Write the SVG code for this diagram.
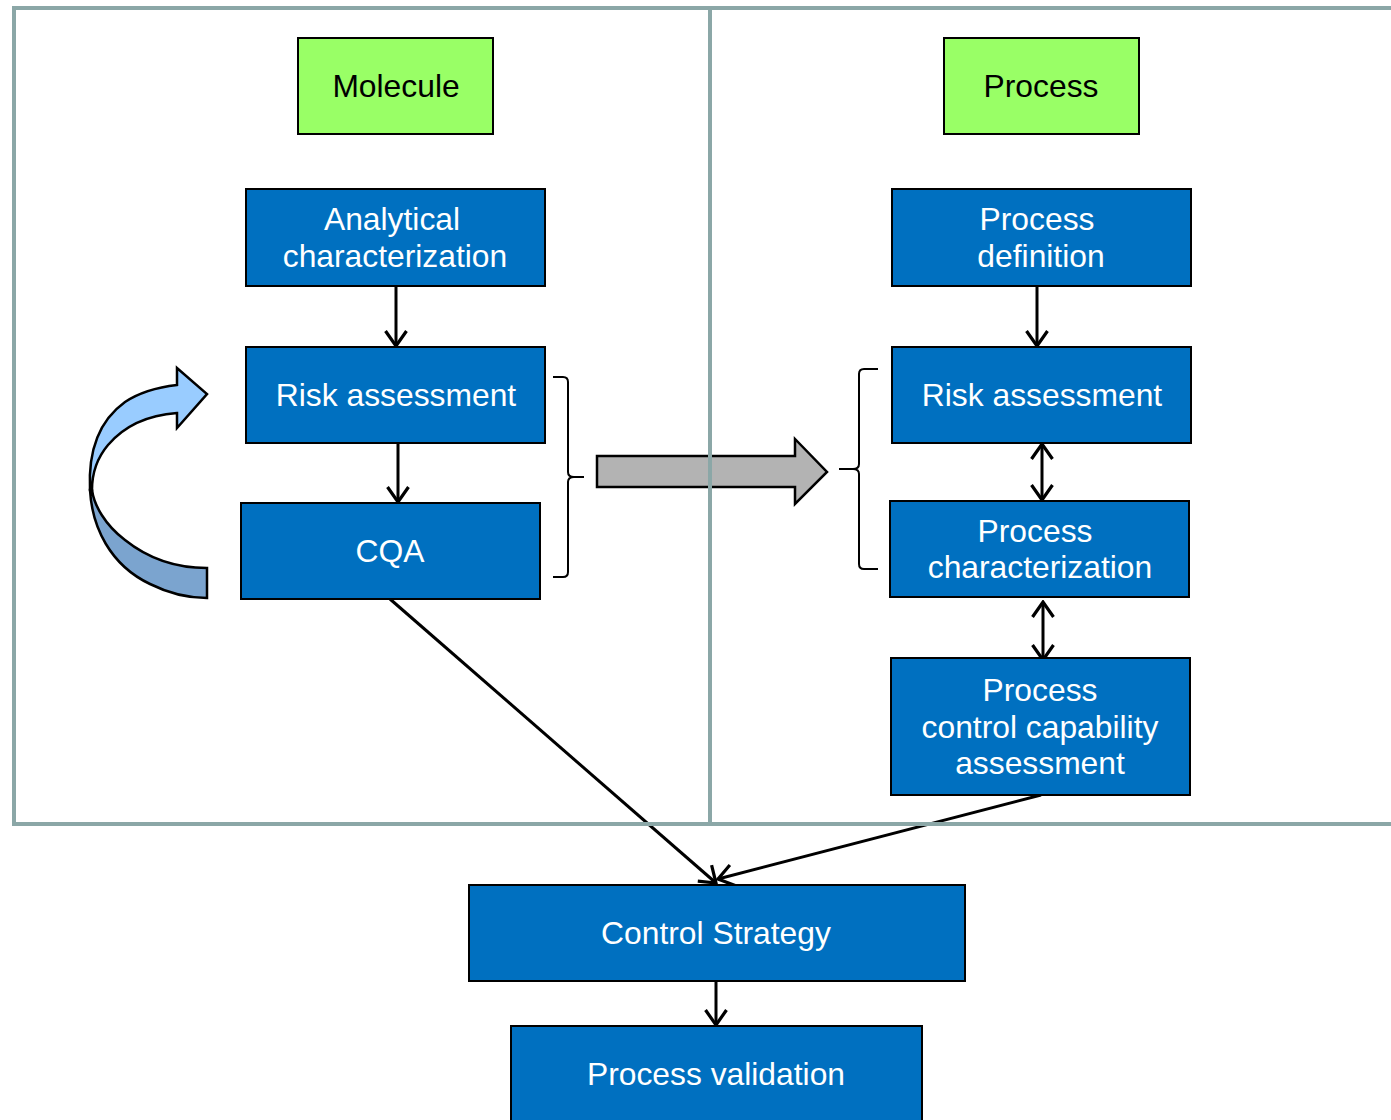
<svg xmlns="http://www.w3.org/2000/svg" width="1391" height="1120" viewBox="0 0 1391 1120">
<style>
.box{fill:#0070c0;stroke:#000;stroke-width:2}
.gbox{fill:#99ff66;stroke:#000;stroke-width:2}
.t{font-family:"Liberation Sans",Arial,sans-serif;font-size:31.8px;text-anchor:middle;fill:#fff}
.tk{fill:#000}
.con{fill:none;stroke:#000;stroke-width:3}
.brace{fill:none;stroke:#000;stroke-width:2}
.frame{fill:none;stroke:#8ba7a7;stroke-width:4}
</style>
<defs>
<marker id="ah" viewBox="-17 -13 19 26" refX="0" refY="0" markerWidth="19" markerHeight="26" markerUnits="userSpaceOnUse" orient="auto-start-reverse">
<path d="M-15,-10.5 L0,0 L-15,10.5" fill="none" stroke="#000" stroke-width="3.2"/>
</marker>
</defs>
<rect width="1391" height="1120" fill="#fff"/>

<g id="curved-arrow">
<path d="M90,490 C92,527 110,565 150,584 C170,594 190,598 207,598 L207,568 C180,568 150,560 125,540 C105,525 94,505 92,490 Z" fill="#7ba4cf" stroke="#000" stroke-width="2.5"/>
<path d="M90,490 C88,450 100,420 125,402 C140,392 160,387 177,385 L177,368 L207,394 L177,428 L177,413 C150,415 125,425 108,445 C97,458 92,474 92,490 Z" fill="#99ccff" stroke="#000" stroke-width="2.5"/>
</g>

<g id="gray-arrow">
<path d="M597,456 H795 V439 L827,472 L795,504 V487 H597 Z" fill="#b3b3b3" stroke="#000" stroke-width="2.5"/>
</g>

<g id="braces">
<path class="brace" d="M553,377 H563 Q568,377 568,382 V472 Q568,477 574,477 H584 M574,477 Q568,477 568,482 V572 Q568,577 563,577 H553"/>
<path class="brace" d="M878,369 H864 Q859,369 859,374 V464 Q859,469 853,469 H839 M853,469 Q859,469 859,474 V564 Q859,569 864,569 H878"/>
</g>

<g id="connectors">
<line class="con" x1="396" y1="287" x2="396" y2="346" marker-end="url(#ah)"/>
<line class="con" x1="398" y1="444" x2="398" y2="502" marker-end="url(#ah)"/>
<line class="con" x1="1037" y1="287" x2="1037" y2="346" marker-end="url(#ah)"/>
<line class="con" x1="1042" y1="444" x2="1042" y2="500" marker-start="url(#ah)" marker-end="url(#ah)"/>
<line class="con" x1="1043" y1="602" x2="1043" y2="660" marker-start="url(#ah)" marker-end="url(#ah)"/>
<line class="con" x1="390" y1="599" x2="716" y2="883" marker-end="url(#ah)"/>
<line class="con" x1="1041" y1="795" x2="718" y2="879" marker-end="url(#ah)"/>
<line class="con" x1="716" y1="982" x2="716" y2="1025" marker-end="url(#ah)"/>
</g>

<g id="frame">
<path class="frame" d="M1395,8 H14 V824 H1395"/>
<line class="frame" x1="710" y1="8" x2="710" y2="824"/>
</g>

<g id="molecule"><rect class="gbox" x="298" y="38" width="195" height="96"/><text class="t tk" x="396" y="97">Molecule</text></g>
<g id="process-header"><rect class="gbox" x="944" y="38" width="195" height="96"/><text class="t tk" x="1041" y="97">Process</text></g>

<g id="analytical"><rect class="box" x="246" y="189" width="299" height="97"/><text class="t" x="392" y="230">Analytical</text><text class="t" x="395" y="267">characterization</text></g>
<g id="risk-left"><rect class="box" x="246" y="347" width="299" height="96"/><text class="t" x="396" y="406">Risk assessment</text></g>
<g id="cqa"><rect class="box" x="241" y="503" width="299" height="96"/><text class="t" x="390" y="562">CQA</text></g>

<g id="process-definition"><rect class="box" x="892" y="189" width="299" height="97"/><text class="t" x="1037" y="230">Process</text><text class="t" x="1041" y="267">definition</text></g>
<g id="risk-right"><rect class="box" x="892" y="347" width="299" height="96"/><text class="t" x="1042" y="406">Risk assessment</text></g>
<g id="process-char"><rect class="box" x="890" y="501" width="299" height="96"/><text class="t" x="1035" y="542">Process</text><text class="t" x="1040" y="578">characterization</text></g>
<g id="pcca"><rect class="box" x="891" y="658" width="299" height="137"/><text class="t" x="1040" y="701">Process</text><text class="t" x="1040" y="738">control capability</text><text class="t" x="1040" y="774">assessment</text></g>

<g id="control-strategy"><rect class="box" x="469" y="885" width="496" height="96"/><text class="t" x="716" y="944">Control Strategy</text></g>
<g id="process-validation"><rect class="box" x="511" y="1026" width="411" height="100"/><text class="t" x="716" y="1085">Process validation</text></g>
</svg>
